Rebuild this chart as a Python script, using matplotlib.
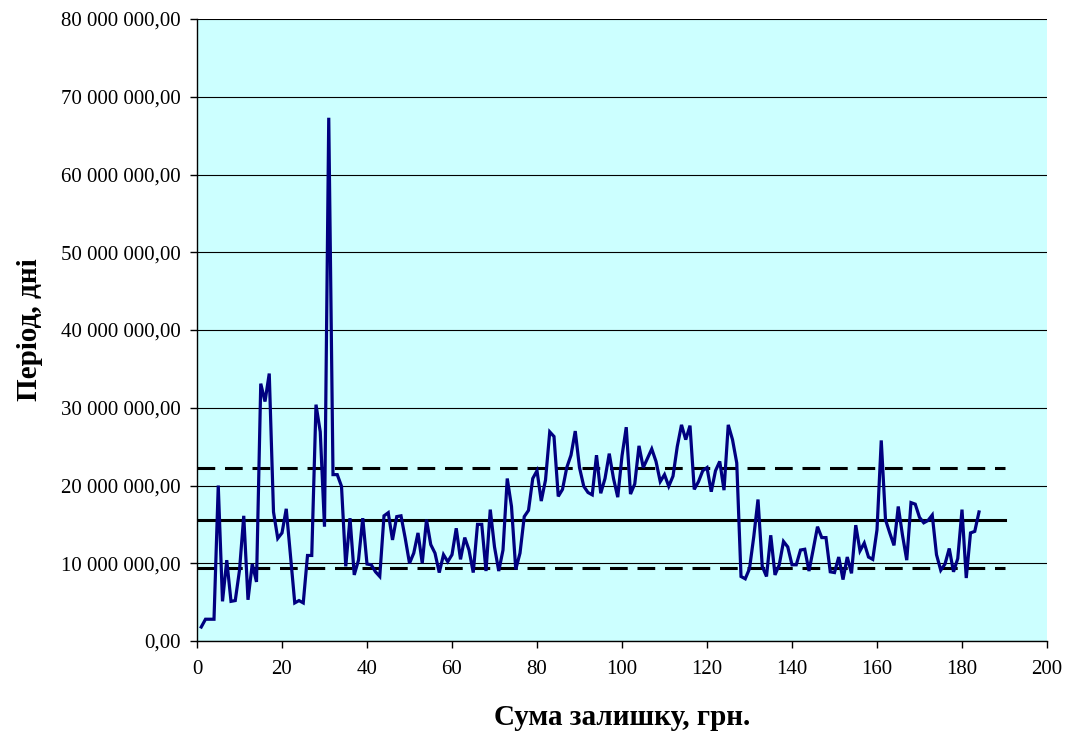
import matplotlib
matplotlib.use("Agg")
import matplotlib.pyplot as plt
from matplotlib.ticker import FuncFormatter, MultipleLocator

# Daily balance series, in millions of UAH (day index starts at 1)
values_mln = [
    1.8, 2.8, 2.8, 2.8, 20.0, 5.1, 10.4, 5.1, 5.2, 9.1,
    16.1, 5.3, 9.9, 7.6, 33.1, 30.8, 34.4, 16.6, 13.2, 13.9,
    17.0, 11.0, 4.9, 5.2, 4.9, 11.0, 11.0, 30.4, 26.9, 14.7,
    67.3, 21.4, 21.4, 19.9, 9.6, 15.8, 8.5, 10.4, 15.8, 9.9,
    9.8, 8.9, 8.3, 16.1, 16.5, 13.0, 16.0, 16.1, 13.2, 10.0,
    11.3, 13.9, 10.0, 15.6, 12.4, 11.3, 8.8, 11.1, 10.2, 11.1,
    14.5, 10.5, 13.3, 11.7, 8.8, 15.0, 15.0, 9.0, 16.9, 12.1,
    9.0, 11.7, 20.9, 17.3, 9.2, 11.3, 16.0, 16.8, 20.9, 21.9,
    18.0, 20.7, 26.9, 26.3, 18.6, 19.5, 22.3, 23.9, 27.0, 22.3,
    19.9, 19.1, 18.8, 23.9, 19.0, 20.9, 24.1, 20.9, 18.5, 23.8,
    27.5, 18.9, 20.2, 25.1, 22.3, 23.5, 24.7, 23.1, 20.5, 21.4,
    19.9, 21.2, 25.0, 27.8, 25.9, 27.7, 19.5, 20.5, 21.9, 22.3,
    19.2, 21.9, 23.1, 19.4, 27.8, 25.9, 22.9, 8.3, 8.0, 9.3,
    13.4, 18.2, 9.6, 8.3, 13.6, 8.5, 9.8, 12.8, 12.1, 9.8,
    9.8, 11.7, 11.8, 9.0, 11.8, 14.7, 13.3, 13.3, 8.9, 8.8,
    10.8, 7.9, 10.8, 8.7, 14.9, 11.6, 12.6, 10.8, 10.5, 14.3,
    25.8, 15.6, 13.9, 12.3, 17.3, 13.6, 10.4, 17.8, 17.6, 15.9,
    15.2, 15.5, 16.2, 11.1, 9.1, 9.9, 11.9, 8.9, 10.6, 16.9,
    8.1, 13.9, 14.1, 16.6,
]
days = list(range(1, len(values_mln) + 1))

# Reference levels (millions): mean and control bounds
mean_level = 15.6
upper_level = 22.2
lower_level = 9.35
level_span = [0, 190]

x_limits = [0, 200]
y_limits = [0, 80_000_000]

plt.rcParams["font.family"] = ["Liberation Serif", "DejaVu Serif"]

fig = plt.figure(figsize=(10.70, 7.38), dpi=100)
ax = fig.add_axes([197 / 1070, 1 - 641 / 738, 850 / 1070, 622 / 738])
ax.set_facecolor("#CCFFFF")

to_units = lambda seq: [v * 1_000_000 for v in seq]

ax.plot(days, to_units(values_mln), color="#000080", lw=2.3, zorder=4,
        solid_joinstyle="miter")

ax.plot(level_span, to_units([mean_level] * 2), color="black", lw=2.2, zorder=3)
for lvl in (upper_level, lower_level):
    ax.plot(level_span, to_units([lvl] * 2), color="black", lw=2.2, zorder=3,
            linestyle=(0, (5.8, 3.2)), dash_capstyle="butt")

ax.set_xlim(*x_limits)
ax.set_ylim(*y_limits)
ax.xaxis.set_major_locator(MultipleLocator(20))
ax.yaxis.set_major_locator(MultipleLocator(10_000_000))


def money(v, _pos):
    whole = int(round(v))
    s = f"{whole:,}".replace(",", " ")
    return f"{s},00"


ax.yaxis.set_major_formatter(FuncFormatter(money))
ax.grid(axis="y", color="black", lw=0.8, zorder=1)
ax.set_axisbelow(True)

for side in ("top", "right"):
    ax.spines[side].set_visible(False)
for side in ("left", "bottom"):
    ax.spines[side].set_linewidth(1.0)
    ax.spines[side].set_color("black")

ax.tick_params(axis="both", direction="out", length=5, width=1.0,
               labelsize=15, colors="black")
ax.tick_params(axis="y", pad=7)
ax.tick_params(axis="x", pad=9)

ax.set_xlabel("Сума залишку, грн.", fontsize=21, fontweight="bold", labelpad=18)
ax.set_ylabel("Період, дні", fontsize=21, fontweight="bold", labelpad=13)

fig.savefig("out.png", dpi=100)
